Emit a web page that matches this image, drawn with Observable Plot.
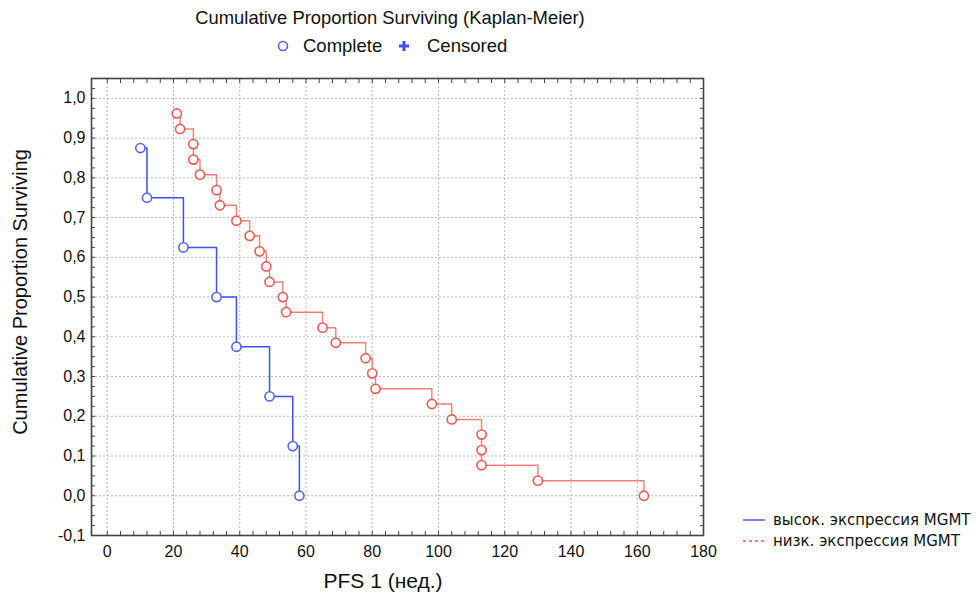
<!DOCTYPE html>
<html><head><meta charset="utf-8">
<script src="https://cdn.jsdelivr.net/npm/d3@7"></script>
<script src="https://cdn.jsdelivr.net/npm/@observablehq/plot@0.6"></script>
<style>
body{margin:0;background:#fff;}
#wrap{position:relative;width:980px;height:596px;font-family:"Liberation Sans",Arial,sans-serif;color:#111;overflow:hidden;}
#wrap svg.plot{position:absolute;left:0;top:0;}
.t{position:absolute;white-space:nowrap;line-height:1;}
</style></head><body><div id="wrap"></div>
<script>
// ---- data ----
const highTimes = [10, 12, 23, 33, 39, 49, 56, 58];
const highSurv  = [0.875, 0.75, 0.625, 0.5, 0.375, 0.25, 0.125, 0];
const lowTimes  = [21, 22, 26, 26, 28, 33, 34, 39, 43, 46, 48, 49, 53, 54, 65, 69, 78, 80, 81, 98, 104, 113, 113, 113, 130, 162];
const lowSurv   = [0.962, 0.923, 0.885, 0.846, 0.808, 0.769, 0.731, 0.692, 0.654, 0.615, 0.577, 0.538, 0.5, 0.462, 0.423, 0.385, 0.346, 0.308, 0.269, 0.231, 0.192, 0.154, 0.115, 0.077, 0.038, 0];
const groupNames = ["высок. экспрессия MGMT", "низк. экспрессия MGMT"];
const xTicks = [0, 20, 40, 60, 80, 100, 120, 140, 160, 180];
const yTicks = [-0.1, 0, 0.1, 0.2, 0.3, 0.4, 0.5, 0.6, 0.7, 0.8, 0.9, 1.0];
const titleText = "Cumulative Proportion Surviving (Kaplan-Meier)";
const legendTop = ["Complete", "Censored"];
const xLabel = "PFS 1 (нед.)";
const yLabel = "Cumulative Proportion Surviving";

const BLUE = "#3d50f0", BLUE_DOT = "#5566f0", RED = "#f05a50", RED_LINE = "#f27a72";

const high = highTimes.map((t, i) => ({t, s: highSurv[i], g: groupNames[0]}));
const low = lowTimes.map((t, i) => ({t, s: lowSurv[i], g: groupNames[1]}));
const minorX = d3.range(0, 181, 4);
const minorY = d3.range(-0.1, 1.051, 0.025);
const fmt = d => d.toFixed(1).replace(".", ",");

const plot = Plot.plot({
  width: 980, height: 596,
  marginLeft: 91, marginRight: 277, marginTop: 78, marginBottom: 61,
  x: {domain: [-4.75, 180]},
  y: {domain: [-0.1, 1.05]},
  style: {fontFamily: "'Liberation Sans', Arial, sans-serif", fontSize: "16px", color: "#111", background: "transparent", overflow: "visible"},
  marks: [
    Plot.gridX(xTicks, {stroke: "#b8b8b8", strokeOpacity: 1, strokeDasharray: "2,2"}),
    Plot.gridY(yTicks, {stroke: "#b8b8b8", strokeOpacity: 1, strokeDasharray: "2,2"}),
    Plot.line(high, {x: "t", y: "s", curve: "step-after", stroke: BLUE, strokeWidth: 1.5}),
    Plot.line(low, {x: "t", y: "s", curve: "step-after", stroke: RED_LINE, strokeWidth: 1.5, strokeDasharray: "1,1"}),
    Plot.dot(high, {x: "t", y: "s", r: 4.6, stroke: BLUE_DOT, fill: "white", strokeWidth: 1.6}),
    Plot.dot(low, {x: "t", y: "s", r: 4.6, stroke: RED, fill: "white", strokeWidth: 1.6}),
    Plot.frame({stroke: "#444", strokeWidth: 1.6}),
    Plot.axisX(minorX, {anchor: "bottom", tickSize: -4, text: null, label: null, stroke: "#444"}),
    Plot.axisX(minorX, {anchor: "top", tickSize: -4, text: null, label: null, stroke: "#444"}),
    Plot.axisY(minorY, {anchor: "left", tickSize: -4, text: null, label: null, stroke: "#444"}),
    Plot.axisY(minorY, {anchor: "right", tickSize: -4, text: null, label: null, stroke: "#444"}),
    Plot.axisX(xTicks, {anchor: "bottom", tickSize: 0, tickPadding: 10, label: null, fill: "#111"}),
    Plot.axisY(yTicks, {anchor: "left", tickSize: 0, tickPadding: 6, tickFormat: fmt, label: null, fill: "#111"})
  ]
});
plot.classList.add("plot");
const wrap = document.getElementById("wrap");
wrap.appendChild(plot);

function addText(txt, x, y, style) {
  const d = document.createElement("div");
  d.className = "t";
  d.textContent = txt;
  d.style.left = x + "px";
  d.style.top = y + "px";
  Object.assign(d.style, style || {});
  wrap.appendChild(d);
  return d;
}
// title
addText(titleText, 390, 18, {fontSize: "18.4px", transform: "translate(-50%,-50%)"});
// top legend
const lg = document.createElement("div");
lg.innerHTML = `<svg width="980" height="70" style="position:absolute;left:0;top:0">
<circle cx="283" cy="46" r="4.5" fill="white" stroke="${BLUE_DOT}" stroke-width="1.6"/>
<path d="M404,41V51M399,46H409" stroke="${BLUE}" stroke-width="3"/>
</svg>`;
wrap.appendChild(lg);
addText(legendTop[0], 303, 46, {fontSize: "18.5px", transform: "translateY(-50%)"});
addText(legendTop[1], 427, 46, {fontSize: "18.5px", transform: "translateY(-50%)"});
// axis labels
addText(xLabel, 383, 580, {fontSize: "21px", transform: "translate(-50%,-50%)"});
addText(yLabel, 20, 292, {fontSize: "20px", transform: "translate(-50%,-50%) rotate(-90deg)"});
// bottom-right legend
const lg2 = document.createElement("div");
lg2.innerHTML = `<svg width="980" height="596" style="position:absolute;left:0;top:0">
<line x1="743" x2="765" y1="520" y2="520" stroke="${BLUE}" stroke-width="1.4"/>
<line x1="743" x2="765" y1="541" y2="541" stroke="${RED}" stroke-width="1.3" stroke-dasharray="3,3"/>
</svg>`;
wrap.appendChild(lg2);
addText(groupNames[0], 773, 520, {fontSize: "15px", fontFamily: "'DejaVu Sans', sans-serif", transform: "translateY(-50%)"});
addText(groupNames[1], 773, 541, {fontSize: "15px", fontFamily: "'DejaVu Sans', sans-serif", transform: "translateY(-50%)"});
</script></body></html>
